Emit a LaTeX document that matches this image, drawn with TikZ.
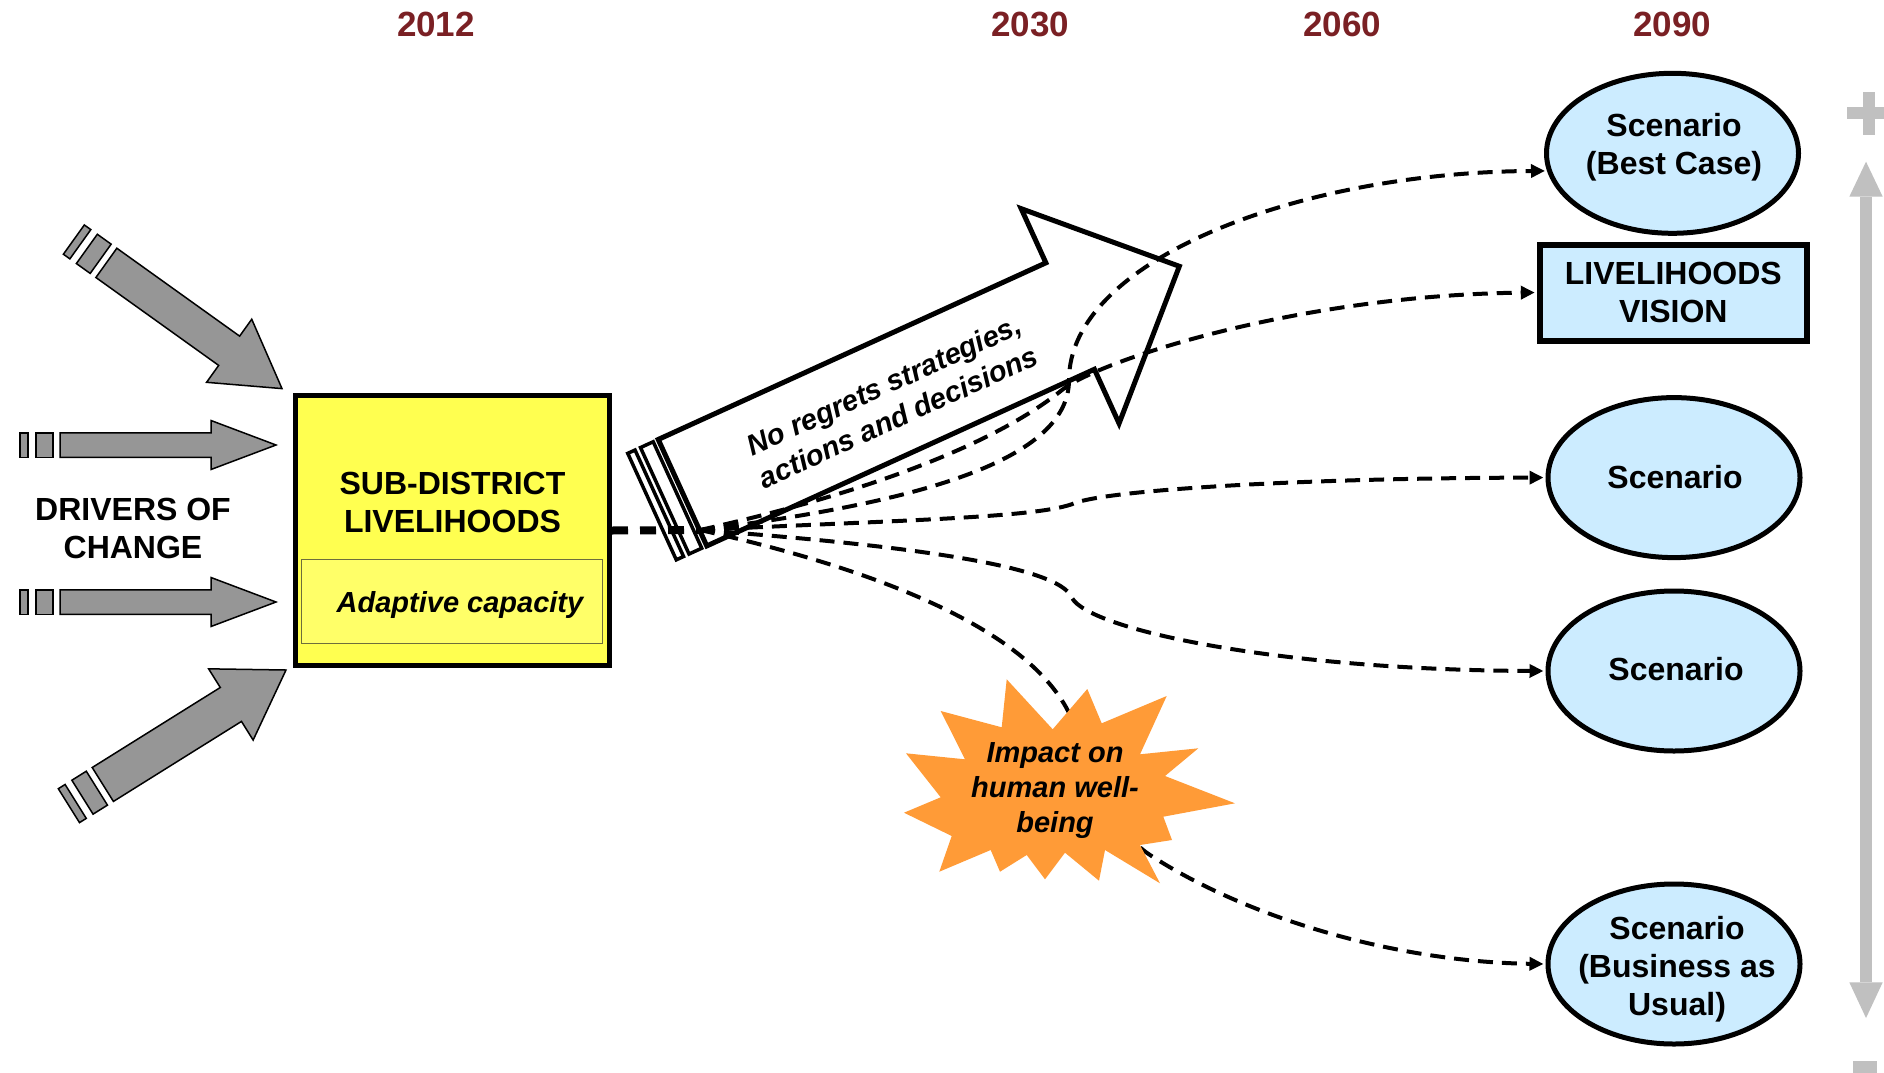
\documentclass[tikz,border=0pt]{standalone}
\usepackage{fontspec}
\setmainfont{Liberation Sans}
\usetikzlibrary{shapes.geometric,arrows.meta}
\definecolor{yearred}{RGB}{122,32,36}
\definecolor{boxyellow}{RGB}{255,255,80}
\definecolor{inneryellow}{RGB}{255,255,104}
\definecolor{innerline}{RGB}{110,110,60}
\definecolor{scenblue}{RGB}{204,236,255}
\definecolor{drvgray}{RGB}{150,150,150}
\definecolor{axisgray}{RGB}{192,192,192}
\definecolor{burst}{RGB}{255,155,55}
\newcommand{\setfs}[2]{\fontsize{#1}{#2}\selectfont}
\newcommand{\drvarrow}[5]{%
\begin{scope}[shift={(#1,#2)},rotate=#3]
\draw[drvshape] (-216,-#4) -- (-65,-#4) -- (-65,-#5) -- (0,0) -- (-65,#5) -- (-65,#4) -- (-216,#4) -- cycle;
\draw[drvshape] (-240,-#4) rectangle (-223,#4);
\draw[drvshape] (-256,-#4) rectangle (-248,#4);
\end{scope}}
\tikzset{
  drvshape/.style={draw=black, line width=1.5pt, fill=drvgray, line join=miter},
  subbox/.style={rectangle, draw=black, line width=5pt, fill=boxyellow, minimum width=314pt, minimum height=270pt, inner sep=0pt},
  adaptbox/.style={rectangle, draw=innerline, line width=1pt, fill=inneryellow, minimum width=301pt, minimum height=84pt, inner sep=0pt},
  bigtext/.style={font=\bfseries\setfs{32}{38}, align=center, text=black},
  itext/.style={font=\bfseries\itshape\setfs{29}{35}, align=center, text=black},
  scen/.style={ellipse, draw=black, line width=5pt, fill=scenblue, minimum width=252pt, minimum height=160pt, inner sep=0pt},
  visbox/.style={rectangle, draw=black, line width=6pt, fill=scenblue, minimum width=267pt, minimum height=96pt, inner sep=0pt, align=center, font=\bfseries\setfs{32}{38}},
  year/.style={font=\bfseries\setfs{35}{40}, text=yearred},
  warrow/.style={draw=black, line width=5pt, fill=white, line join=miter},
  wstrip/.style={draw=black, line width=3.5pt, fill=white},
  thickdash/.style={draw=black, line width=8pt, dash pattern=on 16pt off 12pt},
  fandash/.style={draw=black, line width=4pt, dash pattern=on 15pt off 9pt, -{Triangle[length=14pt,width=13pt]}, shorten >=2pt},
}
\begin{document}
\begin{tikzpicture}[x=1pt,y=-1pt]
\useasboundingbox (0,0) rectangle (1884,1073);
\fill[white] (0,0) rectangle (1884,1073);

% year labels
\node[year] (y2012) at (436,24) {2012};
\node[year] (y2030) at (1030,24) {2030};
\node[year] (y2060) at (1342,24) {2060};
\node[year] (y2090) at (1672,24) {2090};

% drivers of change arrows
\drvarrow{282}{388.6}{-35.6}{18}{38.8}
\drvarrow{276}{445}{0}{12.25}{24.5}
\drvarrow{276}{602}{0}{12.25}{24.5}
\drvarrow{286}{670}{32}{20}{42}
\node[bigtext] (drivers) at (133,528.5) {DRIVERS OF\\CHANGE};

% sub-district box
\node[subbox] (sub) at (452.5,530.5) {};
\node[adaptbox] (adapt) at (452,601.5) {};
\node[bigtext] (subtitle) at (452.5,502) {SUB-DISTRICT\\LIVELIHOODS};
\node[itext] (adapttext) at (460,605) {Adaptive capacity};

% scenario nodes
\node[scen] (best) at (1672.5,153.3) {};
\node[bigtext] (besttext) at (1674,147) {Scenario\\(Best Case)};
\node[visbox] (vision) at (1673.3,292.5) {LIVELIHOODS\\VISION};
\node[scen] (scen1) at (1674,477.6) {};
\node[bigtext] (scen1text) at (1675,477) {Scenario};
\node[scen] (scen2) at (1674,671) {};
\node[bigtext] (scen2text) at (1676,669) {Scenario};
\node[scen] (bau) at (1674,964) {};
\node[bigtext] (bautext) at (1677,969.5) {Scenario\\(Business as\\Usual)};

% big white arrow
\begin{scope}[shift={(682.5,492.7)},rotate=24.5]
  \draw[warrow] (0,-58.5) -- (426,-58.5) -- (426,-118) -- (546,0) -- (426,118) -- (426,58.5) -- (0,58.5) -- cycle;
  \draw[wstrip] (-19.5,-58.5) rectangle (-5.5,58.5);
  \draw[wstrip] (-33.5,-58.5) rectangle (-25.5,58.5);
  \node[font=\bfseries\itshape\setfs{29}{35}, align=center, rotate=24.5] (noregrets) at (228,3) {No regrets strategies,\\actions and decisions};
\end{scope}

% connectors
\coordinate (fan) at (700,530);
\draw[thickdash] (sub.east) -- (fan);
\draw[fandash] (fan) .. controls (900,505) and (1069,465) .. (1069,380)
   .. controls (1069,260) and (1300,172) .. (best.188);
\draw[fandash] (fan) .. controls (880,490) and (1000,440) .. (1062,390)
   .. controls (1100,360) and (1300,295) .. (vision.west);
\draw[fandash] (fan) .. controls (900,520) and (1040,518) .. (1075,503)
   .. controls (1110,490) and (1300,478) .. (scen1.west);
\draw[fandash] (fan) .. controls (900,545) and (1060,565) .. (1072,598)
   .. controls (1090,630) and (1280,670) .. (scen2.west);
\draw[fandash] (fan) .. controls (880,570) and (1030,630) .. (1070,715)
   .. controls (1095,768) and (1110,829) .. (1150,855)
   .. controls (1250,920) and (1400,962) .. (bau.west);

% impact starburst
\fill[burst] (1006.7,679.3) -- (1052.7,729.3) -- (1087.3,689) -- (1101.7,723.3) -- (1166.7,696)
  -- (1140,754.3) -- (1198.3,748.3) -- (1165,776) -- (1235,803.3) -- (1163.3,816.7)
  -- (1172,840) -- (1140,845) -- (1160,883.3) -- (1105,850) -- (1099,880.7)
  -- (1065,852.7) -- (1045,879.3) -- (1026.7,855) -- (1000,871.7) -- (990.7,850)
  -- (939.3,871.7) -- (951.7,836) -- (904,812.7) -- (940.7,797.3) -- (906,753.3)
  -- (965,759.3) -- (940.7,711) -- (1001.7,727.3) -- cycle;
\node[itext] (impact) at (1055,791) {Impact on\\human well-\\being};

% right-hand scale
\fill[axisgray] (1860,196.7) rectangle (1872.3,982.3);
\fill[axisgray] (1866,161.7) -- (1882.7,196.7) -- (1849.3,196.7) -- cycle;
\fill[axisgray] (1866,1018) -- (1849.3,982.3) -- (1882.7,982.3) -- cycle;
\fill[axisgray] (1863.3,91.7) rectangle (1874.7,135);
\fill[axisgray] (1847.3,107.3) rectangle (1884,119);
\fill[axisgray] (1853.3,1061.3) rectangle (1876.7,1073);
\end{tikzpicture}
\end{document}
